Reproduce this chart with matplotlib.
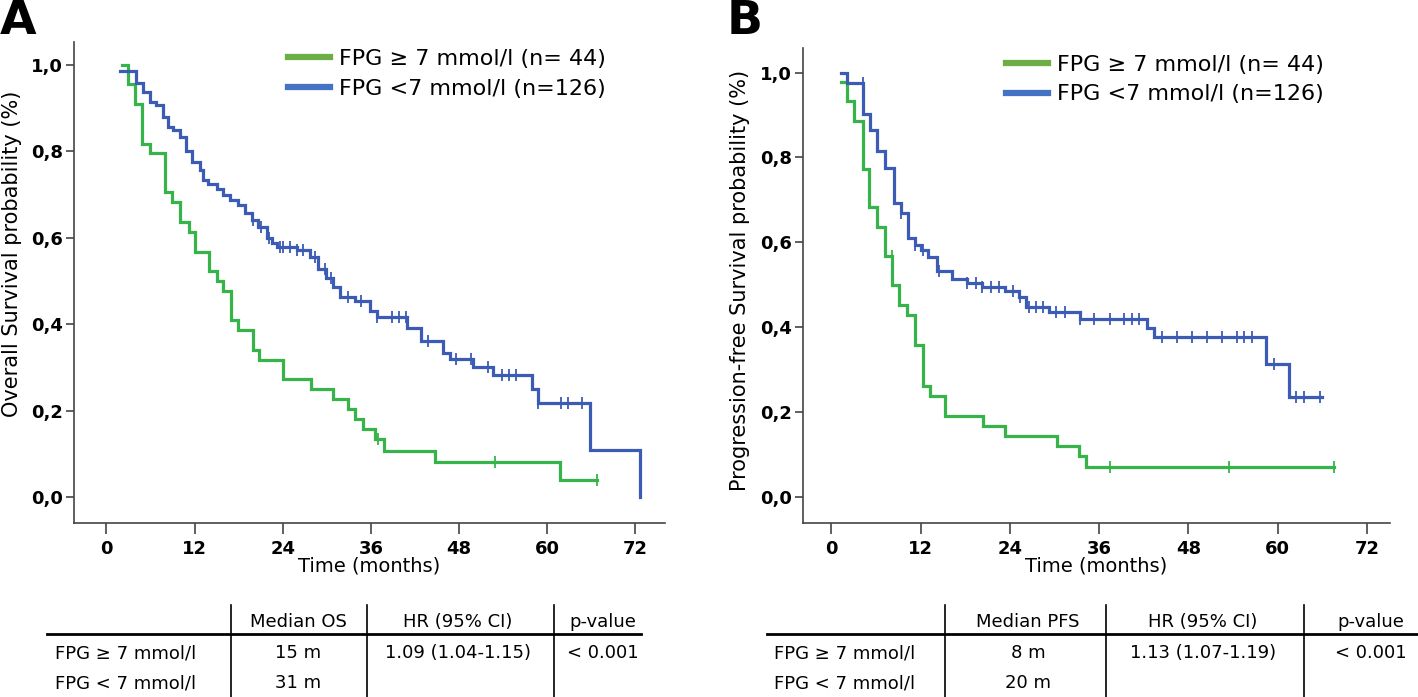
import numpy as np
import matplotlib
matplotlib.use("Agg")
import matplotlib.pyplot as plt
from matplotlib.lines import Line2D

plt.rcParams['font.family'] = ['DejaVu Sans']

# ---- Panel A: overall survival (months, survival after each drop) ----
os_hi_t = [2.1, 3.0, 3.9, 4.9, 5.9, 8.0, 8.9, 10.0, 11.2, 12.0, 14.0, 15.0, 15.9,
           16.9, 17.9, 19.9, 20.8, 24.0, 27.8, 30.8, 32.9, 33.8, 34.9, 36.6, 37.8,
           44.8, 61.8, 66.8]
os_hi_s = [1.0, 0.955, 0.909, 0.818, 0.795, 0.705, 0.682, 0.636, 0.614, 0.568, 0.523,
           0.5, 0.477, 0.409, 0.386, 0.341, 0.318, 0.273, 0.25, 0.227, 0.204, 0.181,
           0.158, 0.134, 0.107, 0.08, 0.04, 0.04]
os_hi_cens = [37.0, 52.9, 66.8]

os_lo_t = [1.9, 4.0, 5.0, 5.9, 6.8, 7.7, 8.4, 9.1, 10.0, 10.8, 11.6, 12.7, 13.2, 13.9,
           15.0, 15.9, 16.8, 17.9, 18.9, 19.8, 20.7, 21.8, 22.5, 23.2, 25.9, 27.7,
           28.8, 29.9, 30.8, 31.8, 33.8, 35.9, 36.9, 40.9, 42.8, 45.8, 46.8, 49.9,
           52.7, 57.9, 58.8, 65.8, 72.7]
os_lo_s = [0.985, 0.957, 0.938, 0.915, 0.907, 0.880, 0.857, 0.850, 0.834, 0.80, 0.775,
           0.757, 0.734, 0.725, 0.712, 0.699, 0.688, 0.676, 0.657, 0.641, 0.626, 0.599,
           0.587, 0.579, 0.572, 0.556, 0.527, 0.506, 0.486, 0.464, 0.454, 0.431, 0.417,
           0.391, 0.362, 0.334, 0.32, 0.302, 0.282, 0.25, 0.218, 0.109, 0.0]
os_lo_cens = [20.0, 21.1, 22.2, 23.6, 24.0, 25.0, 26.0, 26.8, 28.4, 29.7, 30.6, 32.9,
              34.7, 36.9, 38.9, 39.9, 40.8, 43.8, 47.6, 49.7, 51.9, 53.8, 54.8, 55.8,
              58.8, 61.9, 62.8, 64.8]

# ---- Panel B: progression-free survival ----
pfs_hi_t = [1.3, 2.1, 3.0, 4.2, 5.0, 6.2, 7.2, 8.2, 9.1, 10.2, 11.3, 12.3, 13.2, 15.3,
            20.4, 23.4, 30.3, 33.3, 34.3, 67.6]
pfs_hi_s = [0.977, 0.932, 0.886, 0.773, 0.682, 0.636, 0.568, 0.5, 0.452, 0.428, 0.357,
            0.262, 0.238, 0.19, 0.166, 0.143, 0.119, 0.095, 0.071, 0.071]
pfs_hi_cens = [8.1, 37.4, 53.5, 67.6]

pfs_lo_t = [1.3, 2.1, 4.3, 5.2, 6.2, 7.2, 8.4, 9.4, 10.3, 11.2, 12.1, 13.0, 14.2, 16.2,
            18.2, 20.2, 23.3, 25.2, 26.2, 29.3, 33.4, 42.4, 43.4, 58.4, 61.5, 66.0]
pfs_lo_s = [1.0, 0.976, 0.903, 0.865, 0.816, 0.775, 0.692, 0.668, 0.609, 0.594, 0.582,
            0.566, 0.533, 0.514, 0.504, 0.495, 0.484, 0.472, 0.448, 0.435, 0.420, 0.397,
            0.376, 0.313, 0.236, 0.236]
pfs_lo_cens = [4.2, 9.4, 11.2, 12.3, 14.5, 18.2, 19.4, 20.3, 21.4, 22.5, 24.4, 25.3,
               26.6, 27.5, 28.4, 30.2, 31.4, 33.4, 35.3, 37.4, 39.4, 40.4, 41.4, 44.4,
               46.4, 48.5, 50.5, 52.5, 54.5, 55.5, 56.5, 59.5, 62.5, 63.5, 65.7]

legend_labels = ["FPG \u2265 7 mmol/l (n= 44)", "FPG <7 mmol/l (n=126)"]
xticks = [0, 12, 24, 36, 48, 60, 72]
yticks = [0.0, 0.2, 0.4, 0.6, 0.8, 1.0]
ytick_labels = ["0,0", "0,2", "0,4", "0,6", "0,8", "1,0"]

# tables
row_labels = ["FPG \u2265 7 mmol/l", "FPG < 7 mmol/l"]
tab_a_head = ["Median OS", "HR (95% CI)", "p-value"]
tab_a_rows = [["15 m", "1.09 (1.04-1.15)", "< 0.001"], ["31 m", "", ""]]
tab_b_head = ["Median PFS", "HR (95% CI)", "p-value"]
tab_b_rows = [["8 m", "1.13 (1.07-1.19)", "< 0.001"], ["20 m", "", ""]]

GREEN = '#36b449'
BLUE = '#3c5bb4'
LEG_GREEN = '#6cae45'
LEG_BLUE = '#4472c4'
W, H = 1418, 697


def km(ax, t, s, cens, color):
    t = np.array(t)
    s = np.array(s)
    ax.step(t, s, where='post', color=color, lw=2.3, solid_joinstyle='miter')
    idx = np.searchsorted(t, cens, side='right') - 1
    ax.plot(cens, s[idx], ls='none', marker='|', ms=8, mew=1.3, color=color)


def style(ax, ylabel):
    for side in ['top', 'right']:
        ax.spines[side].set_visible(False)
    for side in ['left', 'bottom']:
        ax.spines[side].set_color('#444444')
        ax.spines[side].set_linewidth(1.2)
    ax.set_xticks(xticks)
    ax.set_yticks(yticks)
    ax.set_yticklabels(ytick_labels)
    ax.tick_params(axis='y', length=6, width=1.2, color='#444444', pad=2, labelsize=13)
    ax.tick_params(axis='x', length=8, width=1.2, color='#444444', pad=4, labelsize=13)
    for lab in ax.get_xticklabels() + ax.get_yticklabels():
        lab.set_fontweight('bold')
    ax.set_xlabel("Time (months)", fontsize=14, va='top')
    ax.xaxis.set_label_coords(0.5, -0.07)
    ax.set_ylabel(ylabel, fontsize=15)
    handles = [Line2D([], [], color=LEG_GREEN, lw=4.5), Line2D([], [], color=LEG_BLUE, lw=4.5)]
    return handles


fig = plt.figure(figsize=(W / 100, H / 100), dpi=100)

axA = fig.add_axes([74 / W, 1 - 523 / H, 591 / W, 481 / H])
km(axA, os_hi_t, os_hi_s, os_hi_cens, GREEN)
km(axA, os_lo_t, os_lo_s, os_lo_cens, BLUE)
axA.set_xlim(-4.41, 76.05)
axA.set_ylim(-0.060, 1.053)
h = style(axA, "Overall Survival probability (%)")
axA.yaxis.set_label_coords(-0.088, 0.56)
axA.legend(h, legend_labels, loc='upper left', bbox_to_anchor=(0.362, 0.985),
           frameon=False, fontsize=16, handlelength=1.9, handletextpad=0.4,
           borderpad=0, borderaxespad=0, labelspacing=0.42)

axB = fig.add_axes([803 / W, 1 - 523 / H, 587 / W, 475 / H])
km(axB, pfs_hi_t, pfs_hi_s, pfs_hi_cens, GREEN)
km(axB, pfs_lo_t, pfs_lo_s, pfs_lo_cens, BLUE)
axB.set_xlim(-3.81, 75.1)
axB.set_ylim(-0.062, 1.058)
h = style(axB, "Progression-free Survival probability (%)")
axB.yaxis.set_label_coords(-0.090, 0.51)
axB.legend(h, legend_labels, loc='upper left', bbox_to_anchor=(0.346, 0.985),
           frameon=False, fontsize=16, handlelength=1.9, handletextpad=0.4,
           borderpad=0, borderaxespad=0, labelspacing=0.42)

fig.text(0 / W, 1 - 34 / H, "A", fontsize=34, fontweight='bold', va='baseline')
fig.text(727 / W, 1 - 34 / H, "B", fontsize=34, fontweight='bold', va='baseline')


def table(x_left, x_line0, x_line1, vlines, centers, head, rows):
    def fl(xs, ys, lw):
        fig.add_artist(Line2D([x / W for x in xs], [1 - y / H for y in ys],
                              color='black', lw=lw))
    fl([x_line0, x_line1], [634, 634], 2.0)
    for vx in vlines:
        fl([vx, vx], [605, 697], 1.2)
    for c, txt in zip(centers, head):
        fig.text(c / W, 1 - 622 / H, txt, fontsize=13, ha='center', va='center')
    for r, (lab, vals) in enumerate(zip(row_labels, rows)):
        y = [653, 683][r]
        fig.text(x_left / W, 1 - y / H, lab, fontsize=13, ha='left', va='center')
        for c, txt in zip(centers, vals):
            fig.text(c / W, 1 - y / H, txt, fontsize=13, ha='center', va='center')


table(55, 47, 641, [231, 367, 554], [298, 458, 603], tab_a_head, tab_a_rows)
table(774, 767, 1418, [945, 1106, 1304], [1028, 1203, 1371], tab_b_head, tab_b_rows)

fig.savefig("out.png", dpi=100)
